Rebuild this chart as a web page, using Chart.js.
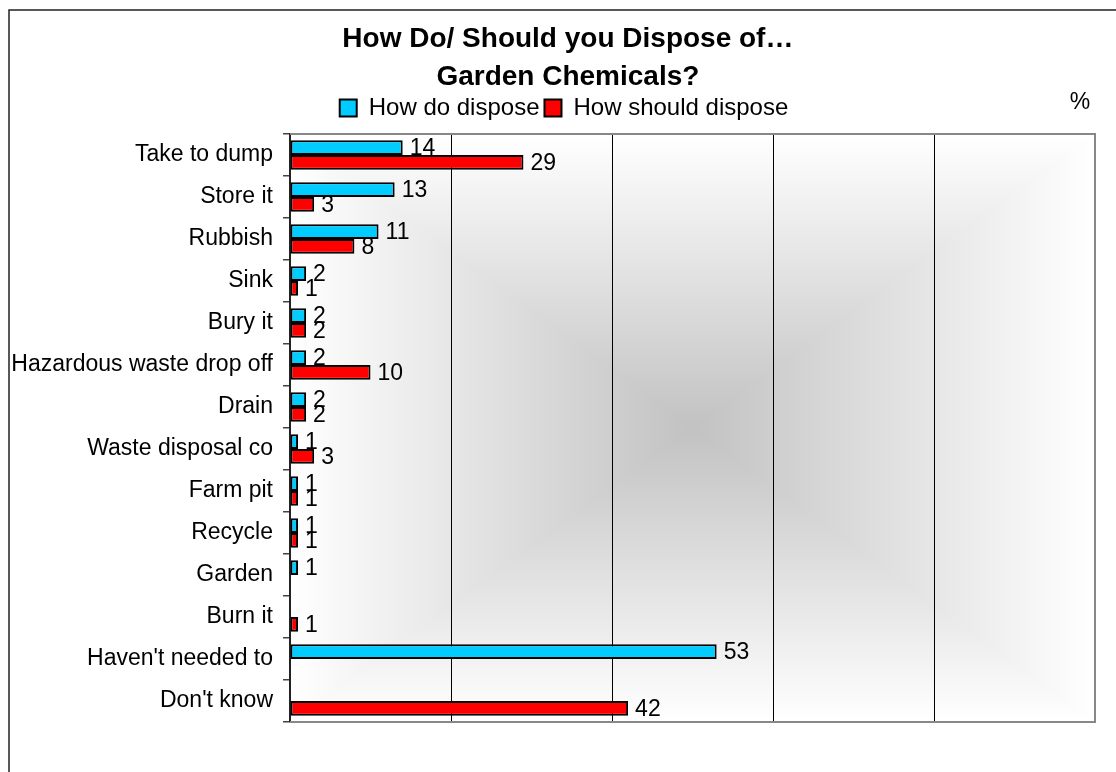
<!DOCTYPE html>
<html>
<head>
<meta charset="utf-8">
<script src="https://cdn.jsdelivr.net/npm/chart.js@4/dist/chart.umd.min.js"></script>
<style>
  html, body { margin: 0; padding: 0; background: #ffffff; }
  #wrap { width: 1116px; height: 772px; }
</style>
</head>
<body>
<div id="wrap"><canvas id="chart-entsorgung" width="1116" height="772"></canvas></div>
<script>
// ═══════════════════════════════════════════
// Garden chemicals – how do / should you dispose
// ═══════════════════════════════════════════

const kategorien = [
  'Take to dump', 'Store it', 'Rubbish', 'Sink', 'Bury it',
  'Hazardous waste drop off', 'Drain', 'Waste disposal co', 'Farm pit',
  'Recycle', 'Garden', 'Burn it', "Haven't needed to", "Don't know"
];
const howDo     = [14, 13, 11, 2, 2, 2, 2, 1, 1, 1, 1, null, 53, null];
const howShould = [29, 3, 8, 1, 2, 10, 2, 3, 1, 1, null, 1, null, 42];
const xTicks    = [0, 20, 40, 60, 80, 100];

const FONT = "'Liberation Sans', Arial, sans-serif";
Chart.defaults.font.family = FONT;
Chart.defaults.color = '#000';

// ── Hintergrund: Rahmen + rechteckiger Verlauf im Plotbereich ──
const hintergrund = {
  id: 'hintergrund',
  beforeDraw(chart) {
    const { ctx, chartArea: a } = chart;
    ctx.save();
    // Rahmen oben / links
    ctx.strokeStyle = '#222';
    ctx.lineWidth = 1.5;
    ctx.beginPath();
    ctx.moveTo(9, chart.height);
    ctx.lineTo(9, 10);
    ctx.lineTo(chart.width, 10);
    ctx.stroke();

    const cx = (a.left + a.right) / 2, cy = (a.top + a.bottom) / 2;
    const tri = (pts, g0, g1) => {
      const g = ctx.createLinearGradient(g0[0], g0[1], g1[0], g1[1]);
      g.addColorStop(0, '#ffffff');
      g.addColorStop(1, '#c2c2c2');
      ctx.fillStyle = g;
      ctx.beginPath();
      ctx.moveTo(pts[0][0], pts[0][1]);
      pts.slice(1).forEach(p => ctx.lineTo(p[0], p[1]));
      ctx.closePath();
      ctx.fill();
    };
    // links / rechts
    tri([[a.left, a.top], [a.left, a.bottom], [cx, cy]], [a.left, cy], [cx, cy]);
    tri([[a.right, a.top], [a.right, a.bottom], [cx, cy]], [a.right, cy], [cx, cy]);
    // oben / unten, leicht überlappend gegen Nahtlinien
    tri([[a.left - 1, a.top], [a.right + 1, a.top], [cx + 2, cy], [cx - 2, cy]], [cx, a.top], [cx, cy]);
    tri([[a.left - 1, a.bottom], [a.right + 1, a.bottom], [cx + 2, cy], [cx - 2, cy]], [cx, a.bottom], [cx, cy]);

    // Prozentzeichen oben rechts
    ctx.fillStyle = '#000';
    ctx.font = '23px ' + FONT;
    ctx.textAlign = 'center';
    ctx.textBaseline = 'middle';
    ctx.fillText('%', 1080, 103);
    ctx.restore();
  },
  afterDatasetsDraw(chart) {
    const { ctx, chartArea: a } = chart;
    ctx.save();
    // grauer Plotrahmen oben / rechts / unten
    ctx.strokeStyle = '#888';
    ctx.lineWidth = 2;
    ctx.beginPath();
    ctx.moveTo(a.left, a.top);
    ctx.lineTo(a.right, a.top);
    ctx.lineTo(a.right, a.bottom);
    ctx.lineTo(a.left, a.bottom);
    ctx.stroke();

    // Werte rechts neben den Balken
    ctx.fillStyle = '#000';
    ctx.font = '23px ' + FONT;
    ctx.textAlign = 'left';
    ctx.textBaseline = 'middle';
    chart.data.datasets.forEach((ds, i) => {
      chart.getDatasetMeta(i).data.forEach((bar, j) => {
        const v = ds.data[j];
        if (v === null || v === undefined) return;
        ctx.fillText(String(v), bar.x + 7, bar.y + 1);
      });
    });
    ctx.restore();
  }
};

new Chart(document.getElementById('chart-entsorgung'), {
  type: 'bar',
  data: {
    labels: kategorien,
    datasets: [
      {
        label: 'How do dispose',
        data: howDo,
        xAxisID: 'x',
        yAxisID: 'y',
        backgroundColor: '#00ccff',
        borderColor: '#000',
        borderWidth: 2,
        borderSkipped: false,
        categoryPercentage: 0.7,
        barPercentage: 1
      },
      {
        label: 'How should dispose',
        data: howShould,
        xAxisID: 'x',
        yAxisID: 'y',
        backgroundColor: '#ff0000',
        borderColor: '#000',
        borderWidth: 2,
        borderSkipped: false,
        categoryPercentage: 0.7,
        barPercentage: 1
      }
    ]
  },
  options: {
    indexAxis: 'y',
    responsive: false,
    animation: false,
    layout: { padding: { left: 12, right: 0, top: 0, bottom: 50 } },
    plugins: {
      title: {
        display: true,
        text: ' How Do/ Should you Dispose of\u2026',
        font: { size: 28, weight: 'bold', lineHeight: 1 },
        color: '#000',
        padding: { top: 25, bottom: 0 }
      },
      subtitle: {
        display: true,
        text: ' Garden Chemicals?',
        font: { size: 28, weight: 'bold', lineHeight: 1 },
        color: '#000',
        padding: { top: 10, bottom: 0 }
      },
      legend: {
        position: 'top',
        labels: {
          font: { size: 24 },
          color: '#000',
          boxWidth: 17,
          boxHeight: 17,
          padding: 5
        }
      },
      tooltip: { enabled: false }
    },
    scales: {
      x: {
        min: 0,
        max: 100,
        afterBuildTicks: s => { s.ticks = xTicks.map(v => ({ value: v })); },
        ticks: { display: false },
        border: { display: false },
        grid: {
          drawTicks: false,
          lineWidth: 1,
          color: c => (c.tick && (c.tick.value === 0 || c.tick.value === 100)) ? 'rgba(0,0,0,0)' : '#000'
        }
      },
      y: {
        afterFit: s => { s.width = 278; },
        ticks: { font: { size: 23 }, color: '#000', padding: 10 },
        border: { color: '#222', width: 2 },
        grid: {
          offset: true,
          drawOnChartArea: false,
          tickLength: 7,
          tickColor: '#444',
          lineWidth: 1.5
        }
      },
      // leere Hilfsachsen nur als Abstand oben / rechts
      xOben: {
        type: 'linear',
        axis: 'x',
        position: 'top',
        afterFit: s => { s.height = 4; },
        ticks: { display: false },
        grid: { display: false },
        border: { display: false }
      },
      yRechts: {
        type: 'linear',
        axis: 'y',
        position: 'right',
        afterFit: s => { s.width = 21; },
        ticks: { display: false },
        grid: { display: false },
        border: { display: false }
      }
    }
  },
  plugins: [hintergrund]
});
</script>
</body>
</html>
